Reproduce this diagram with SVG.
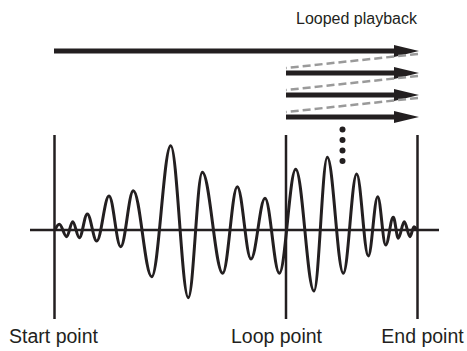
<svg xmlns="http://www.w3.org/2000/svg" width="467" height="351" viewBox="0 0 467 351">
<style>
.lbl{font-family:"Liberation Sans",Arial,sans-serif;font-size:19.5px;fill:#231f20}
.ln{stroke:#231f20;stroke-width:2.5;fill:none}
.wave{stroke:#231f20;stroke-width:3;fill:none}
.arr{stroke:#231f20;stroke-width:5;fill:none}
.head{fill:#231f20}
.dash{stroke:#9a9a9a;stroke-width:2.5;stroke-dasharray:8 4;fill:none}
.dot{fill:#231f20}
</style>
<rect width="467" height="351" fill="#fff"/>
<g id="axes">
<line class="ln" x1="30" y1="230" x2="439" y2="230"/>
</g>
<g id="start-marker"><line class="ln" x1="54.5" y1="135" x2="54.5" y2="319"/><text class="lbl" x="53.5" y="343" text-anchor="middle">Start point</text></g>
<g id="loop-marker"><line class="ln" x1="286" y1="135" x2="286" y2="319"/><text class="lbl" x="276.5" y="343" text-anchor="middle">Loop point</text></g>
<g id="end-marker"><line class="ln" x1="417.5" y1="135" x2="417.5" y2="319"/><text class="lbl" x="422.5" y="343" text-anchor="middle">End point</text></g>
<g id="waveform">
<path class="wave" d="M55,230 C56.5,226.5 57.8,224.3 59.3,224.3 C62,224.3 64,236.7 66.7,236.7 C68.9,236.7 70.5,221.7 72.7,221.7 C75.1,221.7 76.9,237.7 79.3,237.7 C82.2,237.7 84.4,214 87.3,214 C90.7,214 93.3,241 96.7,241 C101.2,241 104.5,196 109,196 C113.3,196 116.4,246.7 120.7,246.7 C125.3,246.7 128.7,190.7 133.3,190.7 C140,190.7 145,276.7 151.7,276.7 C158.6,276.7 163.8,145.7 170.7,145.7 C177.1,145.7 181.9,297.7 188.3,297.7 C193.4,297.7 197.2,172.3 202.3,172.3 C209.7,172.3 215.3,273.3 222.7,273.3 C228,273.3 232,186.7 237.3,186.7 C242.3,186.7 246,259 251,259 C256.1,259 259.9,198.3 265,198.3 C270.2,198.3 274.1,273.3 279.3,273.3 C285.3,273.3 289.7,169.3 295.7,169.3 C302.4,169.3 307.3,291 314,291 C318.8,291 322.5,157.3 327.3,157.3 C333.1,157.3 337.5,273.3 343.3,273.3 C348.2,273.3 351.8,174 356.7,174 C360.9,174 364.1,256 368.3,256 C371.7,256 374.3,196.7 377.7,196.7 C380.6,196.7 382.8,245 385.7,245 C388.5,245 390.5,217.3 393.3,217.3 C395.1,217.3 396.5,238.3 398.3,238.3 C400.5,238.3 402.1,221.7 404.3,221.7 C406.4,221.7 407.9,236.7 410,236.7 C411.5,236.7 412.5,226.7 414,226.7 C415.2,226.7 416.2,229 417,230"/>
</g>
<g id="playback">
<text class="lbl" x="417" y="24" text-anchor="end" style="font-size:16px">Looped playback</text>
</g>
<g id="connectors">
<line class="arr" x1="54" y1="51" x2="397" y2="51"/>
<polygon class="head" points="394,45 419,51 394,57"/>
<line class="dash" x1="418" y1="54" x2="286" y2="68"/>
<line class="arr" x1="286" y1="73" x2="397" y2="73"/>
<polygon class="head" points="394,67 419,73 394,79"/>
<line class="dash" x1="418" y1="76" x2="286" y2="90"/>
<line class="arr" x1="286" y1="95" x2="397" y2="95"/>
<polygon class="head" points="394,89 419,95 394,101"/>
<line class="dash" x1="418" y1="98" x2="286" y2="112"/>
<line class="arr" x1="286" y1="117" x2="397" y2="117"/>
<polygon class="head" points="394,111 419,117 394,123"/>
<circle class="dot" cx="342.5" cy="129.5" r="3"/>
<circle class="dot" cx="342.5" cy="140" r="3"/>
<circle class="dot" cx="342.5" cy="150.5" r="3"/>
<circle class="dot" cx="342.5" cy="161" r="3"/>
</g>
</svg>
